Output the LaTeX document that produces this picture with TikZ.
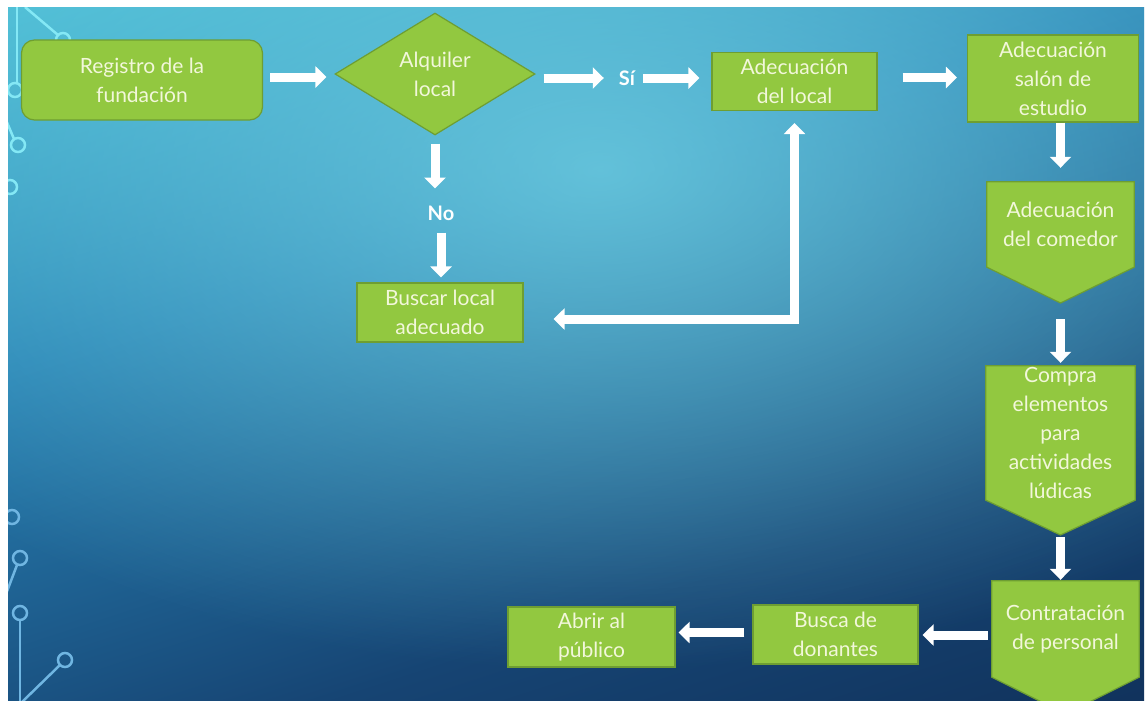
\documentclass[tikz,border=0pt]{standalone}
\usepackage{fontspec}
\setmainfont{Lato}
\usetikzlibrary{arrows.meta,shapes.geometric,fadings,calc}
\definecolor{boxgreen}{RGB}{146,200,64}
\definecolor{boxedge}{RGB}{110,158,50}
\definecolor{boxtext}{RGB}{242,247,218}
\definecolor{bgA}{RGB}{10,30,66}
\definecolor{bgB}{RGB}{22,68,115}
\definecolor{bgC}{RGB}{40,130,180}
\definecolor{bgD}{RGB}{74,188,212}
\definecolor{bgE}{RGB}{88,200,222}
\definecolor{glowc}{RGB}{118,214,230}
\definecolor{circA}{RGB}{132,232,245}
\definecolor{circB}{RGB}{112,182,226}
\pgfdeclareverticalshading{bgv}{100bp}{color(0bp)=(bgA); color(34bp)=(bgB); color(60bp)=(bgC); color(82bp)=(bgD); color(100bp)=(bgE)}
\tikzfading[name=glowfade, inner color=transparent!25, outer color=transparent!100]
\pgfdeclarelayer{bglayer}
\pgfdeclarelayer{shapelayer}
\pgfsetlayers{bglayer,shapelayer,main}
\tikzset{
  boxtxt/.style={text=boxtext, font=\fontsize{21}{29}\selectfont, align=center, inner sep=0pt},
  gbox/.style={boxtxt, rectangle, fill=boxgreen, draw=boxedge, line width=1.2pt},
  chevtxt/.style={boxtxt, rectangle},
  chevshape/.style={fill=boxgreen, draw=boxedge, line width=1.2pt, line join=miter},
  lbl/.style={text=white, font=\bfseries\fontsize{20}{24}\selectfont, inner sep=0pt},
  flow/.style={draw=white, line width=9pt, -{Triangle[length=11pt,width=21pt]}},
  flowtwo/.style={draw=white, line width=9pt, line join=miter, {Triangle[length=11pt,width=21pt]}-{Triangle[length=11pt,width=21pt]}},
  circ/.style={line width=2.5pt}
}
\begin{document}
\begin{tikzpicture}[x=1pt,y=-1pt]
\useasboundingbox (0,0) rectangle (1145,702);
% background
\begin{pgfonlayer}{bglayer}
\fill[white] (0,0) rectangle (1145,702);
\begin{scope}
\clip (8,7) rectangle (1144,700);
\shade[shading=bgv, shading angle=18] (8,7) rectangle (1144,700);
\fill[glowc, path fading=glowfade] (600,170) ellipse (880 and 500);
% circuit decoration top-left
\draw[circA, circ] (17,7) -- (17,83);
\draw[circA, circ] (15,90) circle (7);
\draw[circA, circ] (25,7) -- (58,35);
\draw[circA, circ] (63,40) circle (7);
\draw[circA, circ] (6,120) -- (14,139);
\draw[circA, circ] (18,145) circle (7);
\draw[circA, circ] (10,187) circle (7);
% circuit decoration bottom-left
\draw[circB, circ] (12,517) circle (7);
\draw[circB, circ] (20,558) circle (7);
\draw[circB, circ] (17,565) -- (6,594);
\draw[circB, circ] (20,613) circle (7);
\draw[circB, circ] (20,620) -- (20,702);
\draw[circB, circ] (65,660) circle (7);
\draw[circB, circ] (60,665) -- (22,702);
\end{scope}
\end{pgfonlayer}

% nodes
\node[gbox, rounded corners=13pt, minimum width=241, minimum height=80] (reg) at (142,80) {Registro de la\\fundación};
\node[boxtxt, diamond, fill=boxgreen, draw=boxedge, line width=1.2pt, minimum width=200, minimum height=122] (alq) at (435,74) {Alquiler\\local};
\node[lbl] (si) at (627,78) {Sí};
\node[gbox, minimum width=165, minimum height=58] (loc) at (794.5,81.5) {Adecuación\\del local};
\node[gbox, minimum width=171, minimum height=87] (sal) at (1053,78.5) {Adecuación\\salón de\\estudio};
\node[chevtxt, minimum width=147, minimum height=85] (com) at (1060.5,224.5) {Adecuación\\del comedor};
\node[chevtxt, minimum width=149, minimum height=134] (compra) at (1060.5,433) {Compra\\elementos\\para\\actividades\\lúdicas};
\node[chevtxt, minimum width=147, minimum height=96] (contr) at (1065.5,629) {Contratación\\de personal};
\node[gbox, minimum width=165, minimum height=59] (don) at (835.5,634.5) {Busca de\\donantes};
\node[gbox, minimum width=167, minimum height=60] (abr) at (591.5,637) {Abrir al\\público};
\node[lbl] (no) at (441,213) {No};
\node[gbox, minimum width=166, minimum height=59] (bus) at (440,312.5) {Buscar local\\adecuado};

\coordinate (comtip) at (1060.5,303);
\coordinate (compratip) at (1060.5,535);

% chevron shapes
\begin{pgfonlayer}{shapelayer}
\draw[chevshape] (com.north west) -- (com.north east) -- (com.south east) -- (comtip) -- (com.south west) -- cycle;
\draw[chevshape] (compra.north west) -- (compra.north east) -- (compra.south east) -- (compratip) -- (compra.south west) -- cycle;
\begin{scope}
\clip (8,7) rectangle (1144,700);
\draw[chevshape] (contr.north west) -- (contr.north east) -- (contr.south east) -- (1065.5,714) -- (contr.south west) -- cycle;
\end{scope}
\end{pgfonlayer}

% connectors
\draw[flow, shorten <=7pt, shorten >=8pt] ([yshift=3pt]reg.east) -- ([yshift=3pt]reg.east -| alq.west);
\draw[flow, shorten <=8pt, shorten >=15pt] (alq.east |- si.west) -- (si.west);
\draw[flow, shorten <=8pt, shorten >=12pt] (si.east) -- (si.east -| loc.west);
\draw[flow, shorten <=25pt, shorten >=10pt] ([yshift=4pt]loc.east) -- ([yshift=4pt]loc.east -| sal.west);
\draw[flow, shorten <=0pt, shorten >=14pt] (com.north |- sal.south) -- (com.north);
\draw[flow, shorten <=16pt, shorten >=3pt] (comtip) -- (compra.north);
\draw[flow, shorten <=2pt, shorten >=1pt] (compratip) -- (compratip |- contr.north);
\draw[flow, shorten <=4pt, shorten >=4pt] ([yshift=-6pt]contr.west) -- ([yshift=-6pt]contr.west -| don.east);
\draw[flow, shorten <=8pt, shorten >=3pt] ([yshift=2pt]don.west) -- ([yshift=2pt]don.west -| abr.east);
\draw[flow, shorten <=8pt, shorten >=17pt] (alq.south) -- (alq.south |- no.north);
\draw[flow, shorten <=12pt, shorten >=5pt] (no.south) -- (no.south |- bus.north);
\draw[flowtwo, shorten <=12pt, shorten >=30pt] (loc.south) |- ([yshift=-6.5pt]bus.east);
\end{tikzpicture}
\end{document}
